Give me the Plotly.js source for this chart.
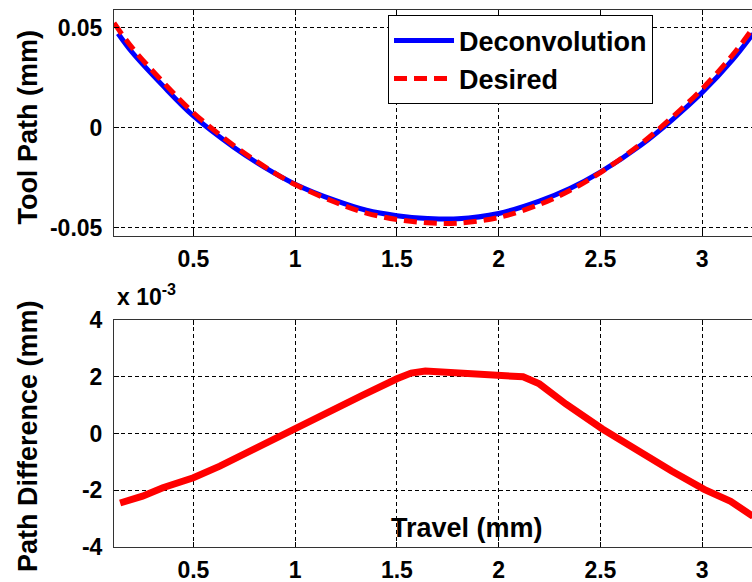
<!DOCTYPE html>
<html>
<head>
<meta charset="utf-8">
<script src="https://cdn.plot.ly/plotly-3.0.1.min.js"></script>
<style>html,body{margin:0;padding:0;background:#fff;}#chart{width:752px;height:582px;}</style>
</head>
<body>
<div id="chart"></div>
<script>
// Top panel: tool path (mm)
var desiredX = [0.11, 0.2, 0.35, 0.5, 0.7, 0.85, 1.0, 1.2, 1.35, 1.5, 1.65, 1.8, 2.0, 2.2, 2.35, 2.5, 2.7, 2.85, 3.0, 3.15, 3.25];
var desiredY = [0.0525, 0.0400, 0.0230, 0.0075, -0.0090, -0.0195, -0.0285, -0.0375, -0.0428, -0.0460, -0.0477, -0.0478, -0.0450, -0.0385, -0.0315, -0.0225, -0.0080, 0.0050, 0.0195, 0.0365, 0.0500];
var deconvX = [0.13, 0.2, 0.35, 0.5, 0.7, 0.85, 1.0, 1.2, 1.35, 1.5, 1.65, 1.8, 2.0, 2.2, 2.35, 2.5, 2.7, 2.85, 3.0, 3.15, 3.25];
var deconvY = [0.0472, 0.0377, 0.0211, 0.0059, -0.0099, -0.0199, -0.0283, -0.0366, -0.0414, -0.0441, -0.0455, -0.0457, -0.0430, -0.0368, -0.0305, -0.0223, -0.0087, 0.0037, 0.0176, 0.0341, 0.0471];

// Bottom panel: path difference (units of 1e-3 mm)
var diffX = [0.14, 0.25, 0.35, 0.5, 0.63, 0.78, 0.91, 1.0, 1.16, 1.33, 1.5, 1.57, 1.64, 1.79, 2.0, 2.12, 2.2, 2.33, 2.51, 2.68, 2.85, 3.01, 3.14, 3.25];
var diffY = [-2.45, -2.21, -1.91, -1.56, -1.15, -0.61, -0.12, 0.21, 0.74, 1.34, 1.93, 2.13, 2.2, 2.13, 2.05, 2.0, 1.75, 1.04, 0.16, -0.61, -1.32, -1.97, -2.39, -2.92];

// Tick labels
var xTickVals = [0.5, 1, 1.5, 2, 2.5, 3];
var xTickText = ['0.5', '1', '1.5', '2', '2.5', '3'];
var topTickVals = [-0.05, 0, 0.05];
var topTickText = ['-0.05', '0', '0.05'];
var botTickVals = [-4, -2, 0, 2, 4];
var botTickText = ['-4', '-2', '0', '2', '4'];

var FONT = '"Liberation Sans", Arial, Helvetica, sans-serif';
var tickFont = {family: FONT, size: 23, color: '#000', weight: 'bold'};
var titleFont = {family: FONT, size: 27, color: '#000', weight: 'bold'};

var traces = [
  {x: deconvX, y: deconvY, type: 'scatter', mode: 'lines', name: 'Deconvolution',
   line: {color: '#0000ff', width: 5, shape: 'spline'}, xaxis: 'x', yaxis: 'y'},
  {x: desiredX, y: desiredY, type: 'scatter', mode: 'lines', name: 'Desired',
   line: {color: '#ff0000', width: 5, dash: '13px,7px', shape: 'spline'}, xaxis: 'x', yaxis: 'y'},
  {x: diffX, y: diffY, type: 'scatter', mode: 'lines', name: 'Difference', showlegend: false,
   line: {color: '#ff0000', width: 7}, xaxis: 'x2', yaxis: 'y2'}
];

var xRange = [0.11, 3.245];
function xAxis(anchor) {
  return {
    range: xRange, anchor: anchor, tickvals: xTickVals, ticktext: xTickText,
    ticks: 'inside', ticklen: 5, tickcolor: '#000', tickwidth: 1,
    showline: true, linecolor: '#333', linewidth: 1, mirror: 'ticks',
    showgrid: true, gridcolor: '#000', gridwidth: 1, griddash: '4px,3px',
    zeroline: false, tickfont: tickFont, ticklabelstandoff: 2
  };
}
function yAxis(anchor, domain, range, tv, tt) {
  return {
    domain: domain, range: range, anchor: anchor, tickvals: tv, ticktext: tt,
    ticks: 'inside', ticklen: 5, tickcolor: '#000', tickwidth: 1,
    showline: true, linecolor: '#333', linewidth: 1, mirror: false,
    showgrid: true, gridcolor: '#000', gridwidth: 1, griddash: '4px,3px',
    zeroline: false, tickfont: tickFont, ticklabelstandoff: 6
  };
}

var layout = {
  width: 752, height: 582,
  margin: {l: 114, r: 0, t: 10, b: 35},
  paper_bgcolor: '#fff', plot_bgcolor: '#fff',
  showlegend: true,
  xaxis: xAxis('y'),
  yaxis: yAxis('x', [0.5791, 1], [-0.0543, 0.059], topTickVals, topTickText),
  xaxis2: xAxis('y2'),
  yaxis2: yAxis('x2', [0, 0.4227], [-4, 4], botTickVals, botTickText),
  legend: {
    x: 0.4295, y: 0.99, xanchor: 'left', yanchor: 'top',
    bgcolor: '#fff', bordercolor: '#000', borderwidth: 1,
    font: {family: FONT, size: 27, color: '#000', weight: 'bold'},
    itemwidth: 60, tracegroupgap: 0
  },
  annotations: [
    {text: 'Tool Path (mm)', xref: 'paper', yref: 'paper', x: -0.1348, y: 0.781,
     xanchor: 'center', yanchor: 'middle', textangle: -90, showarrow: false, font: titleFont},
    {text: 'Path Difference (mm)', xref: 'paper', yref: 'paper', x: -0.1348, y: 0.2067,
     xanchor: 'center', yanchor: 'middle', textangle: -90, showarrow: false, font: titleFont},
    {text: 'Travel (mm)', xref: 'paper', yref: 'paper', x: (466.5 - 114) / 638, y: (547 - 528) / 537,
     xanchor: 'center', yanchor: 'middle', showarrow: false, font: titleFont},
    {text: 'x 10<sup>-3</sup>', xref: 'paper', yref: 'paper', x: 0.0016, y: (547 - 312) / 537,
     xanchor: 'left', yanchor: 'bottom', showarrow: false,
     font: {family: FONT, size: 23, color: '#000', weight: 'bold'}}
  ]
};

Plotly.newPlot('chart', traces, layout, {displayModeBar: false, staticPlot: true});
</script>
</body>
</html>
